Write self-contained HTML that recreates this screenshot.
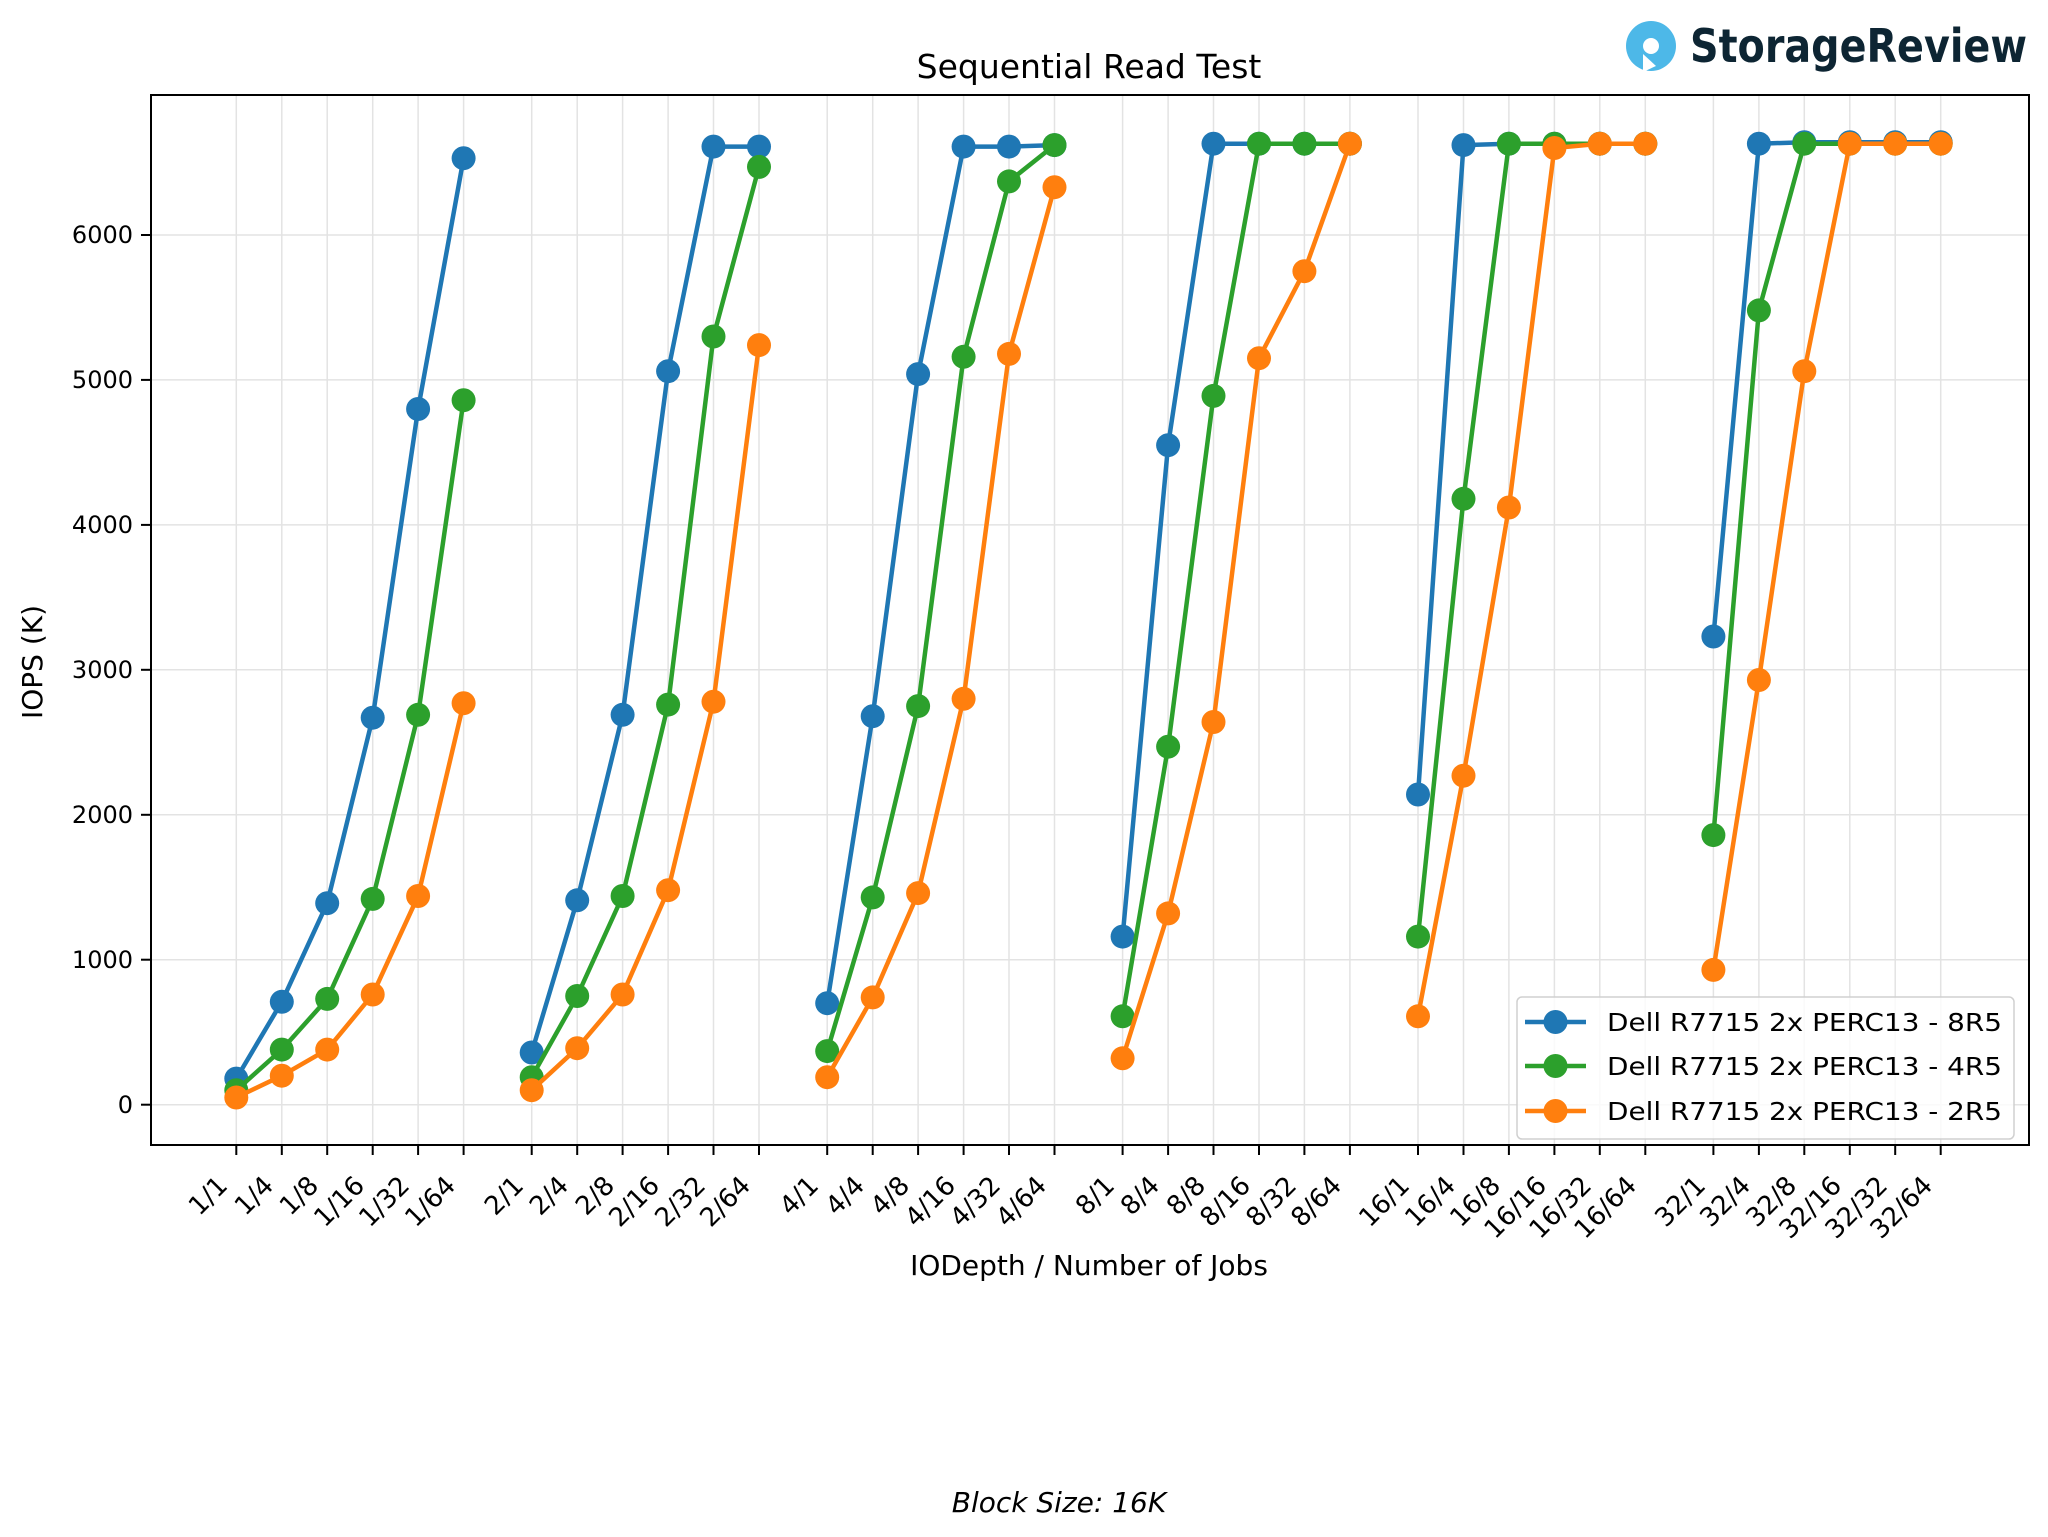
<!DOCTYPE html>
<html><head><meta charset="utf-8"><style>html,body{margin:0;padding:0;background:#fff}svg{display:block}text{font-family:"DejaVu Sans","Liberation Sans",sans-serif;fill:#000}</style></head><body>
<svg width="2048" height="1537" viewBox="0 0 2048 1537" xmlns="http://www.w3.org/2000/svg">
<rect width="2048" height="1537" fill="#fff"/>
<!-- logo -->
<circle cx="1651" cy="46" r="25" fill="#4db8e8"/>
<circle cx="1651" cy="46" r="8" fill="#fff"/>
<path d="M1643 54 L1643 72 L1656 66 Z" fill="#fff"/>
<text x="1690" y="62" font-size="46" font-weight="600" style="fill:#0d2533" textLength="337" lengthAdjust="spacingAndGlyphs">StorageReview</text>
<!-- title -->
<text x="1089" y="78" font-size="33" text-anchor="middle">Sequential Read Test</text>
<!-- grid -->
<g stroke="#e3e3e3" stroke-width="1.5">
<line x1="151" x2="2029" y1="1104.7" y2="1104.7"/><line x1="151" x2="2029" y1="959.7" y2="959.7"/><line x1="151" x2="2029" y1="814.8" y2="814.8"/><line x1="151" x2="2029" y1="669.8" y2="669.8"/><line x1="151" x2="2029" y1="524.9" y2="524.9"/><line x1="151" x2="2029" y1="379.9" y2="379.9"/><line x1="151" x2="2029" y1="235" y2="235"/>
<line x1="236.3" x2="236.3" y1="95" y2="1145"/><line x1="281.8" x2="281.8" y1="95" y2="1145"/><line x1="327.2" x2="327.2" y1="95" y2="1145"/><line x1="372.7" x2="372.7" y1="95" y2="1145"/><line x1="418.1" x2="418.1" y1="95" y2="1145"/><line x1="463.6" x2="463.6" y1="95" y2="1145"/>
<line x1="531.7" x2="531.7" y1="95" y2="1145"/><line x1="577.2" x2="577.2" y1="95" y2="1145"/><line x1="622.6" x2="622.6" y1="95" y2="1145"/><line x1="668.1" x2="668.1" y1="95" y2="1145"/><line x1="713.5" x2="713.5" y1="95" y2="1145"/><line x1="759" x2="759" y1="95" y2="1145"/>
<line x1="827.2" x2="827.2" y1="95" y2="1145"/><line x1="872.7" x2="872.7" y1="95" y2="1145"/><line x1="918.1" x2="918.1" y1="95" y2="1145"/><line x1="963.6" x2="963.6" y1="95" y2="1145"/><line x1="1009" x2="1009" y1="95" y2="1145"/><line x1="1054.5" x2="1054.5" y1="95" y2="1145"/>
<line x1="1122.6" x2="1122.6" y1="95" y2="1145"/><line x1="1168.1" x2="1168.1" y1="95" y2="1145"/><line x1="1213.5" x2="1213.5" y1="95" y2="1145"/><line x1="1259" x2="1259" y1="95" y2="1145"/><line x1="1304.4" x2="1304.4" y1="95" y2="1145"/><line x1="1349.9" x2="1349.9" y1="95" y2="1145"/>
<line x1="1418" x2="1418" y1="95" y2="1145"/><line x1="1463.5" x2="1463.5" y1="95" y2="1145"/><line x1="1508.9" x2="1508.9" y1="95" y2="1145"/><line x1="1554.4" x2="1554.4" y1="95" y2="1145"/><line x1="1599.8" x2="1599.8" y1="95" y2="1145"/><line x1="1645.3" x2="1645.3" y1="95" y2="1145"/>
<line x1="1713.4" x2="1713.4" y1="95" y2="1145"/><line x1="1758.9" x2="1758.9" y1="95" y2="1145"/><line x1="1804.3" x2="1804.3" y1="95" y2="1145"/><line x1="1849.8" x2="1849.8" y1="95" y2="1145"/><line x1="1895.2" x2="1895.2" y1="95" y2="1145"/><line x1="1940.7" x2="1940.7" y1="95" y2="1145"/>
</g>
<!-- series -->
<g fill="none" stroke-width="4.5" stroke-linejoin="round">
<g stroke="#1f77b4">
<polyline points="236.3,1078.6 281.8,1001.8 327.2,903.2 372.7,717.7 418.1,409 463.6,158.2"/>
<polyline points="531.7,1052.5 577.2,900.3 622.6,714.8 668.1,371.2 713.5,146.6 759,146.6"/>
<polyline points="827.2,1003.2 872.7,716.2 918.1,374.1 963.6,146.6 1009,146.6 1054.5,145.1"/>
<polyline points="1122.6,936.6 1168.1,445.2 1213.5,143.7 1259,143.7 1304.4,143.7 1349.9,143.7"/>
<polyline points="1418,794.5 1463.5,145.1 1508.9,143.7 1554.4,143.7 1599.8,143.7 1645.3,143.7"/>
<polyline points="1713.4,636.5 1758.9,143.7 1804.3,142.2 1849.8,142.2 1895.2,142.2 1940.7,142.2"/>
</g>
<g fill="#1f77b4" stroke="none">
<circle cx="236.3" cy="1078.6" r="12"/><circle cx="281.8" cy="1001.8" r="12"/><circle cx="327.2" cy="903.2" r="12"/><circle cx="372.7" cy="717.7" r="12"/><circle cx="418.1" cy="409" r="12"/><circle cx="463.6" cy="158.2" r="12"/>
<circle cx="531.7" cy="1052.5" r="12"/><circle cx="577.2" cy="900.3" r="12"/><circle cx="622.6" cy="714.8" r="12"/><circle cx="668.1" cy="371.2" r="12"/><circle cx="713.5" cy="146.6" r="12"/><circle cx="759" cy="146.6" r="12"/>
<circle cx="827.2" cy="1003.2" r="12"/><circle cx="872.7" cy="716.2" r="12"/><circle cx="918.1" cy="374.1" r="12"/><circle cx="963.6" cy="146.6" r="12"/><circle cx="1009" cy="146.6" r="12"/><circle cx="1054.5" cy="145.1" r="12"/>
<circle cx="1122.6" cy="936.6" r="12"/><circle cx="1168.1" cy="445.2" r="12"/><circle cx="1213.5" cy="143.7" r="12"/><circle cx="1259" cy="143.7" r="12"/><circle cx="1304.4" cy="143.7" r="12"/><circle cx="1349.9" cy="143.7" r="12"/>
<circle cx="1418" cy="794.5" r="12"/><circle cx="1463.5" cy="145.1" r="12"/><circle cx="1508.9" cy="143.7" r="12"/><circle cx="1554.4" cy="143.7" r="12"/><circle cx="1599.8" cy="143.7" r="12"/><circle cx="1645.3" cy="143.7" r="12"/>
<circle cx="1713.4" cy="636.5" r="12"/><circle cx="1758.9" cy="143.7" r="12"/><circle cx="1804.3" cy="142.2" r="12"/><circle cx="1849.8" cy="142.2" r="12"/><circle cx="1895.2" cy="142.2" r="12"/><circle cx="1940.7" cy="142.2" r="12"/>
</g>
<g stroke="#2ca02c">
<polyline points="236.3,1090.2 281.8,1049.6 327.2,998.9 372.7,898.9 418.1,714.8 463.6,400.2"/>
<polyline points="531.7,1077.2 577.2,996 622.6,896 668.1,704.6 713.5,336.5 759,166.9"/>
<polyline points="827.2,1051.1 872.7,897.4 918.1,706.1 963.6,356.8 1009,181.4 1054.5,145.1"/>
<polyline points="1122.6,1016.3 1168.1,746.7 1213.5,395.9 1259,143.7 1304.4,143.7 1349.9,143.7"/>
<polyline points="1418,936.6 1463.5,498.8 1508.9,143.7 1554.4,143.7 1599.8,143.7 1645.3,143.7"/>
<polyline points="1713.4,835.1 1758.9,310.4 1804.3,143.7 1849.8,143.7 1895.2,143.7 1940.7,143.7"/>
</g>
<g fill="#2ca02c" stroke="none">
<circle cx="236.3" cy="1090.2" r="12"/><circle cx="281.8" cy="1049.6" r="12"/><circle cx="327.2" cy="998.9" r="12"/><circle cx="372.7" cy="898.9" r="12"/><circle cx="418.1" cy="714.8" r="12"/><circle cx="463.6" cy="400.2" r="12"/>
<circle cx="531.7" cy="1077.2" r="12"/><circle cx="577.2" cy="996" r="12"/><circle cx="622.6" cy="896" r="12"/><circle cx="668.1" cy="704.6" r="12"/><circle cx="713.5" cy="336.5" r="12"/><circle cx="759" cy="166.9" r="12"/>
<circle cx="827.2" cy="1051.1" r="12"/><circle cx="872.7" cy="897.4" r="12"/><circle cx="918.1" cy="706.1" r="12"/><circle cx="963.6" cy="356.8" r="12"/><circle cx="1009" cy="181.4" r="12"/><circle cx="1054.5" cy="145.1" r="12"/>
<circle cx="1122.6" cy="1016.3" r="12"/><circle cx="1168.1" cy="746.7" r="12"/><circle cx="1213.5" cy="395.9" r="12"/><circle cx="1259" cy="143.7" r="12"/><circle cx="1304.4" cy="143.7" r="12"/><circle cx="1349.9" cy="143.7" r="12"/>
<circle cx="1418" cy="936.6" r="12"/><circle cx="1463.5" cy="498.8" r="12"/><circle cx="1508.9" cy="143.7" r="12"/><circle cx="1554.4" cy="143.7" r="12"/><circle cx="1599.8" cy="143.7" r="12"/><circle cx="1645.3" cy="143.7" r="12"/>
<circle cx="1713.4" cy="835.1" r="12"/><circle cx="1758.9" cy="310.4" r="12"/><circle cx="1804.3" cy="143.7" r="12"/><circle cx="1849.8" cy="143.7" r="12"/><circle cx="1895.2" cy="143.7" r="12"/><circle cx="1940.7" cy="143.7" r="12"/>
</g>
<g stroke="#ff7f0e">
<polyline points="236.3,1097.5 281.8,1075.7 327.2,1049.6 372.7,994.5 418.1,896 463.6,703.2"/>
<polyline points="531.7,1090.2 577.2,1048.2 622.6,994.5 668.1,890.2 713.5,701.7 759,345.1"/>
<polyline points="827.2,1077.2 872.7,997.4 918.1,893.1 963.6,698.8 1009,353.9 1054.5,187.2"/>
<polyline points="1122.6,1058.3 1168.1,913.4 1213.5,722 1259,358.2 1304.4,271.2 1349.9,143.7"/>
<polyline points="1418,1016.3 1463.5,775.7 1508.9,507.5 1554.4,148 1599.8,143.7 1645.3,143.7"/>
<polyline points="1713.4,969.9 1758.9,680 1804.3,371.2 1849.8,143.7 1895.2,143.7 1940.7,143.7"/>
</g>
<g fill="#ff7f0e" stroke="none">
<circle cx="236.3" cy="1097.5" r="12"/><circle cx="281.8" cy="1075.7" r="12"/><circle cx="327.2" cy="1049.6" r="12"/><circle cx="372.7" cy="994.5" r="12"/><circle cx="418.1" cy="896" r="12"/><circle cx="463.6" cy="703.2" r="12"/>
<circle cx="531.7" cy="1090.2" r="12"/><circle cx="577.2" cy="1048.2" r="12"/><circle cx="622.6" cy="994.5" r="12"/><circle cx="668.1" cy="890.2" r="12"/><circle cx="713.5" cy="701.7" r="12"/><circle cx="759" cy="345.1" r="12"/>
<circle cx="827.2" cy="1077.2" r="12"/><circle cx="872.7" cy="997.4" r="12"/><circle cx="918.1" cy="893.1" r="12"/><circle cx="963.6" cy="698.8" r="12"/><circle cx="1009" cy="353.9" r="12"/><circle cx="1054.5" cy="187.2" r="12"/>
<circle cx="1122.6" cy="1058.3" r="12"/><circle cx="1168.1" cy="913.4" r="12"/><circle cx="1213.5" cy="722" r="12"/><circle cx="1259" cy="358.2" r="12"/><circle cx="1304.4" cy="271.2" r="12"/><circle cx="1349.9" cy="143.7" r="12"/>
<circle cx="1418" cy="1016.3" r="12"/><circle cx="1463.5" cy="775.7" r="12"/><circle cx="1508.9" cy="507.5" r="12"/><circle cx="1554.4" cy="148" r="12"/><circle cx="1599.8" cy="143.7" r="12"/><circle cx="1645.3" cy="143.7" r="12"/>
<circle cx="1713.4" cy="969.9" r="12"/><circle cx="1758.9" cy="680" r="12"/><circle cx="1804.3" cy="371.2" r="12"/><circle cx="1849.8" cy="143.7" r="12"/><circle cx="1895.2" cy="143.7" r="12"/><circle cx="1940.7" cy="143.7" r="12"/>
</g>
</g>
<!-- axes frame -->
<rect x="151" y="95" width="1878" height="1050" fill="none" stroke="#000" stroke-width="2"/>
<g stroke="#000" stroke-width="2">
<line x1="141" x2="151" y1="1104.7" y2="1104.7"/><line x1="141" x2="151" y1="959.7" y2="959.7"/><line x1="141" x2="151" y1="814.8" y2="814.8"/><line x1="141" x2="151" y1="669.8" y2="669.8"/><line x1="141" x2="151" y1="524.9" y2="524.9"/><line x1="141" x2="151" y1="379.9" y2="379.9"/><line x1="141" x2="151" y1="235" y2="235"/>
</g>
<g font-size="24" text-anchor="end">
<text x="133" y="1113">0</text><text x="133" y="968">1000</text><text x="133" y="823">2000</text><text x="133" y="678">3000</text><text x="133" y="533">4000</text><text x="133" y="388">5000</text><text x="133" y="243">6000</text>
</g>
<text transform="translate(42,662) rotate(-90)" font-size="28" text-anchor="middle">IOPS (K)</text>
<g stroke="#000" stroke-width="2">
<line x1="236.3" x2="236.3" y1="1145" y2="1155"/><line x1="281.8" x2="281.8" y1="1145" y2="1155"/><line x1="327.2" x2="327.2" y1="1145" y2="1155"/><line x1="372.7" x2="372.7" y1="1145" y2="1155"/><line x1="418.1" x2="418.1" y1="1145" y2="1155"/><line x1="463.6" x2="463.6" y1="1145" y2="1155"/>
<line x1="531.7" x2="531.7" y1="1145" y2="1155"/><line x1="577.2" x2="577.2" y1="1145" y2="1155"/><line x1="622.6" x2="622.6" y1="1145" y2="1155"/><line x1="668.1" x2="668.1" y1="1145" y2="1155"/><line x1="713.5" x2="713.5" y1="1145" y2="1155"/><line x1="759" x2="759" y1="1145" y2="1155"/>
<line x1="827.2" x2="827.2" y1="1145" y2="1155"/><line x1="872.7" x2="872.7" y1="1145" y2="1155"/><line x1="918.1" x2="918.1" y1="1145" y2="1155"/><line x1="963.6" x2="963.6" y1="1145" y2="1155"/><line x1="1009" x2="1009" y1="1145" y2="1155"/><line x1="1054.5" x2="1054.5" y1="1145" y2="1155"/>
<line x1="1122.6" x2="1122.6" y1="1145" y2="1155"/><line x1="1168.1" x2="1168.1" y1="1145" y2="1155"/><line x1="1213.5" x2="1213.5" y1="1145" y2="1155"/><line x1="1259" x2="1259" y1="1145" y2="1155"/><line x1="1304.4" x2="1304.4" y1="1145" y2="1155"/><line x1="1349.9" x2="1349.9" y1="1145" y2="1155"/>
<line x1="1418" x2="1418" y1="1145" y2="1155"/><line x1="1463.5" x2="1463.5" y1="1145" y2="1155"/><line x1="1508.9" x2="1508.9" y1="1145" y2="1155"/><line x1="1554.4" x2="1554.4" y1="1145" y2="1155"/><line x1="1599.8" x2="1599.8" y1="1145" y2="1155"/><line x1="1645.3" x2="1645.3" y1="1145" y2="1155"/>
<line x1="1713.4" x2="1713.4" y1="1145" y2="1155"/><line x1="1758.9" x2="1758.9" y1="1145" y2="1155"/><line x1="1804.3" x2="1804.3" y1="1145" y2="1155"/><line x1="1849.8" x2="1849.8" y1="1145" y2="1155"/><line x1="1895.2" x2="1895.2" y1="1145" y2="1155"/><line x1="1940.7" x2="1940.7" y1="1145" y2="1155"/>
</g>
<g font-size="26" text-anchor="end">
<text transform="translate(229,1187) rotate(-45)">1/1</text><text transform="translate(275,1187) rotate(-45)">1/4</text><text transform="translate(320,1187) rotate(-45)">1/8</text><text transform="translate(366,1187) rotate(-45)">1/16</text><text transform="translate(411,1187) rotate(-45)">1/32</text><text transform="translate(457,1187) rotate(-45)">1/64</text>
<text transform="translate(525,1187) rotate(-45)">2/1</text><text transform="translate(570,1187) rotate(-45)">2/4</text><text transform="translate(616,1187) rotate(-45)">2/8</text><text transform="translate(661,1187) rotate(-45)">2/16</text><text transform="translate(707,1187) rotate(-45)">2/32</text><text transform="translate(752,1187) rotate(-45)">2/64</text>
<text transform="translate(820,1187) rotate(-45)">4/1</text><text transform="translate(866,1187) rotate(-45)">4/4</text><text transform="translate(911,1187) rotate(-45)">4/8</text><text transform="translate(957,1187) rotate(-45)">4/16</text><text transform="translate(1002,1187) rotate(-45)">4/32</text><text transform="translate(1048,1187) rotate(-45)">4/64</text>
<text transform="translate(1116,1187) rotate(-45)">8/1</text><text transform="translate(1161,1187) rotate(-45)">8/4</text><text transform="translate(1207,1187) rotate(-45)">8/8</text><text transform="translate(1252,1187) rotate(-45)">8/16</text><text transform="translate(1298,1187) rotate(-45)">8/32</text><text transform="translate(1343,1187) rotate(-45)">8/64</text>
<text transform="translate(1411,1187) rotate(-45)">16/1</text><text transform="translate(1457,1187) rotate(-45)">16/4</text><text transform="translate(1502,1187) rotate(-45)">16/8</text><text transform="translate(1548,1187) rotate(-45)">16/16</text><text transform="translate(1593,1187) rotate(-45)">16/32</text><text transform="translate(1638,1187) rotate(-45)">16/64</text>
<text transform="translate(1707,1187) rotate(-45)">32/1</text><text transform="translate(1752,1187) rotate(-45)">32/4</text><text transform="translate(1798,1187) rotate(-45)">32/8</text><text transform="translate(1843,1187) rotate(-45)">32/16</text><text transform="translate(1889,1187) rotate(-45)">32/32</text><text transform="translate(1934,1187) rotate(-45)">32/64</text>
</g>
<text x="1089" y="1275" font-size="28" text-anchor="middle">IODepth / Number of Jobs</text>
<text x="1059" y="1512" font-size="28" font-style="italic" text-anchor="middle">Block Size: 16K</text>
<!-- legend -->
<rect x="1517" y="997" width="497" height="142" rx="5" fill="#fff" fill-opacity="0.8" stroke="#d0d0d0" stroke-width="1.5"/>
<g stroke-width="4.5">
<line x1="1525" x2="1586" y1="1022" y2="1022" stroke="#1f77b4"/><circle cx="1555.5" cy="1022" r="12" fill="#1f77b4" stroke="none"/>
<line x1="1525" x2="1586" y1="1066" y2="1066" stroke="#2ca02c"/><circle cx="1555.5" cy="1066" r="12" fill="#2ca02c" stroke="none"/>
<line x1="1525" x2="1586" y1="1111" y2="1111" stroke="#ff7f0e"/><circle cx="1555.5" cy="1111" r="12" fill="#ff7f0e" stroke="none"/>
</g>
<g font-size="25">
<text x="1607" y="1031" textLength="395" lengthAdjust="spacingAndGlyphs">Dell R7715 2x PERC13 - 8R5</text>
<text x="1607" y="1075" textLength="395" lengthAdjust="spacingAndGlyphs">Dell R7715 2x PERC13 - 4R5</text>
<text x="1607" y="1120" textLength="395" lengthAdjust="spacingAndGlyphs">Dell R7715 2x PERC13 - 2R5</text>
</g>
</svg>
</body></html>
